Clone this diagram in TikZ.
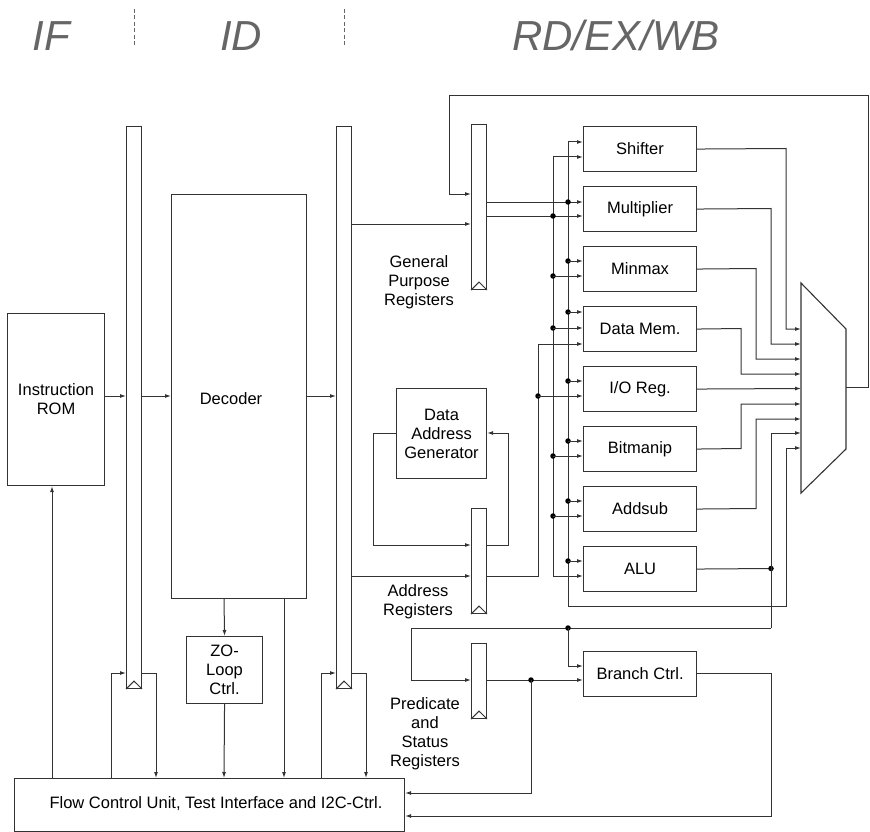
\documentclass[tikz,border=0pt]{standalone}
\usepackage{fontspec}
\setmainfont{Liberation Sans}
\usetikzlibrary{arrows.meta}
\definecolor{ln}{HTML}{333333}
\definecolor{hd}{HTML}{666666}
\begin{document}
\begin{tikzpicture}[x=1pt,y=-1pt,
  every node/.style={font=\fontsize{16.5}{19}\selectfont, text=black},
  box/.style={draw=ln, line width=1.1pt, rectangle, inner sep=0pt, anchor=north west, align=center},
  reg/.style={draw=ln, line width=1.1pt, rectangle, inner sep=0pt, anchor=north west, minimum width=15pt},
  unit/.style={box, minimum width=113pt, minimum height=45pt},
  wire/.style={draw=ln, line width=1pt},
  arr/.style={wire, -{Latex[length=6pt,width=4pt]}},
  dot/.style={circle, fill=black, inner sep=0pt, minimum size=5.5pt},
  lbl/.style={align=center, inner sep=0pt},
  hdr/.style={font=\itshape\fontsize{42}{42}\selectfont, text=hd, inner sep=0pt, anchor=base},
  clk/.style={draw=ln, line width=1pt}
]
\useasboundingbox (0,0) rectangle (870,832);

% header
\node[hdr] (hif) at (51,51) {IF};
\node[hdr] (hid) at (241,51) {ID};
\node[hdr] (hrd) at (616,51) {RD/EX/WB};
\coordinate (dsA) at (134,9);
\coordinate (dsB) at (344,9);
\draw[hd, line width=0.8pt, dash pattern=on 4pt off 2.5pt] (dsA) -- ++(0,38);
\draw[hd, line width=0.8pt, dash pattern=on 4pt off 2.5pt] (dsB) -- ++(0,38);

% blocks
\node[box, minimum width=97pt, minimum height=172pt] (rom) at (7,313) {Instruction\\ROM};
\node[reg, minimum height=562pt] (bus1) at (126,126) {};
\node[box, minimum width=135pt, minimum height=404pt] (dec) at (171,194) {};
\node[lbl] (dect) at (231,399) {Decoder};
\node[reg, minimum height=562pt] (bus2) at (336,126) {};
\node[box, minimum width=76pt, minimum height=67pt] (zo) at (186,636) {ZO-\\Loop\\Ctrl.};
\node[box, minimum width=390pt, minimum height=53pt] (fcu) at (14,778) {};
\node[lbl] (fcut) at (216,804) {Flow Control Unit, Test Interface and I2C-Ctrl.};

\node[reg, minimum height=165pt] (gpr) at (471,124) {};
\node[reg, minimum height=105pt] (adr) at (471,508) {};
\node[reg, minimum height=75pt] (prd) at (471,643) {};
\node[box, minimum width=90pt, minimum height=90pt] (dag) at (396,388) {Data\\Address\\Generator};

\node[lbl] (gprl) at (419,282) {General\\Purpose\\Registers};
\node[lbl] (adrl) at (418,602) {Address\\Registers};
\node[lbl] (prdl) at (425,734) {Predicate\\and\\Status\\Registers};

\node[unit] (shf) at (583,126) {Shifter};
\node[unit] (mul) at (583,186) {Multiplier};
\node[unit] (mmx) at (583,246) {Minmax};
\node[unit] (dmem) at (583,306) {Data Mem.};
\node[unit] (io) at (583,366) {I/O Reg.};
\node[unit] (bit) at (583,426) {Bitmanip};
\node[unit] (add) at (583,486) {Addsub};
\node[unit] (alu) at (583,546) {ALU};
\node[unit] (br) at (583,651) {Branch Ctrl.};

% clock triangles
\foreach \r in {bus1,bus2,gpr,adr,prd}{
  \draw[clk] (\r.south west) -- ([yshift=8pt]\r.south) -- (\r.south east);
}

% multiplexer
\coordinate (muxtl) at (801,283);
\coordinate (muxtr) at (846,329);
\coordinate (muxbr) at (846,449);
\coordinate (muxbl) at (801,493);
\draw[draw=ln, line width=1.1pt] (muxtl) -- (muxtr) -- (muxbr) -- (muxbl) -- cycle;

% IF / ID path
\draw[arr] (rom.east|-0,396) -- (bus1.west|-0,396);
\draw[arr] (bus1.east|-0,396) -- (dec.west|-0,396);
\draw[arr] (dec.east|-0,396) -- (bus2.west|-0,396);
\draw[arr] (bus2.east|-0,224) -- (gpr.west|-0,224);
\draw[arr] (bus2.east|-0,576) -- (adr.west|-0,576);

% write-back loop
\draw[arr] (muxtr|-0,387) -- (868,387) -- (868,96) -- (449,96) -- (449,194) -- (gpr.west|-0,194);

% GPR outputs
\draw[arr] (gpr.east|-0,202) -- (mul.west|-0,202);
\draw[arr] (gpr.east|-0,216) -- (mul.west|-0,216);

% operand bus A (x=568)
\draw[arr] (568,606) -- (568,142) -- (shf.west|-0,142);
\draw[arr] (568,606) -- (786,606) -- (786,448) -- (muxtl|-0,448);
\node[dot] (dA0) at (568,202) {};
\foreach \y/\n in {261/mmx,312/dmem,381/io,441/bit,501/add,561/alu}{
  \node[dot] (dA\y) at (568,\y) {};
  \draw[arr] (dA\y.center) -- (\n.west|-0,\y);
}

% operand bus B (x=553)
\draw[arr] (553,576) -- (553,157) -- (shf.west|-0,157);
\draw[arr] (553,560) -- (553,576) -- (alu.west|-0,576);
\node[dot] (dB0) at (553,216) {};
\foreach \y/\n in {276/mmx,328/dmem,456/bit,516/add}{
  \node[dot] (dB\y) at (553,\y) {};
  \draw[arr] (dB\y.center) -- (\n.west|-0,\y);
}

% address bus (x=538)
\draw[arr] (adr.east|-0,576) -- (538,576) -- (538,344) -- (dmem.west|-0,344);
\node[dot] (dC) at (538,396) {};
\draw[arr] (dC.center) -- (io.west|-0,396);

% DAG loop
\draw[arr] (dag.west|-0,433) -- (373,433) -- (373,545) -- (adr.west|-0,545);
\draw[arr] (adr.east|-0,545) -- (508,545) -- (508,433) -- (dag.east|-0,433);

% unit outputs to multiplexer
\draw[arr] (shf.east) -- (786,148.5) -- (786,329) -- (muxtl|-0,329);
\draw[arr] (mul.east) -- (771,208.5) -- (771,344) -- (muxtl|-0,344);
\draw[arr] (mmx.east) -- (756,268.5) -- (756,359) -- (muxtl|-0,359);
\draw[arr] (dmem.east) -- (741,328.5) -- (741,374) -- (muxtl|-0,374);
\draw[arr] (io.east) -- (muxtl|-0,388.5);
\draw[arr] (bit.east) -- (741,448.5) -- (741,404) -- (muxtl|-0,404);
\draw[arr] (add.east) -- (756,508.5) -- (756,419) -- (muxtl|-0,419);
\draw[wire] (alu.east) -- (771,568.5);
\node[dot] (dD) at (771,568.5) {};
\draw[arr] (771,628) -- (771,433) -- (muxtl|-0,433);

% flags / branch
\draw[arr] (771,628) -- (411,628) -- (411,680) -- (prd.west|-0,680);
\node[dot] (dE) at (568,628) {};
\draw[arr] (dE.center) -- (568,666) -- (br.west|-0,666);
\draw[arr] (prd.east|-0,680) -- (br.west|-0,680);
\node[dot] (dF) at (531,680) {};
\draw[arr] (dF.center) -- (531,793) -- (fcu.east|-0,793);
\draw[arr] (br.east|-0,673) -- (771,673) -- (771,816) -- (fcu.east|-0,816);

% control paths
\draw[arr] (fcu.north-|52,0) -- (rom.south-|52,0);
\draw[arr] (fcu.north-|111,0) -- (111,673) -- (bus1.west|-0,673);
\draw[arr] (bus1.east|-0,673) -- (156,673) -- (fcu.north-|156,0);
\draw[arr] (dec.south-|224,0) -- (zo.north);
\draw[arr] (zo.south) -- (fcu.north-|224,0);
\draw[arr] (dec.south-|284,0) -- (fcu.north-|284,0);
\draw[arr] (fcu.north-|321,0) -- (321,673) -- (bus2.west|-0,673);
\draw[arr] (bus2.east|-0,673) -- (366,673) -- (fcu.north-|366,0);
\end{tikzpicture}
\end{document}
